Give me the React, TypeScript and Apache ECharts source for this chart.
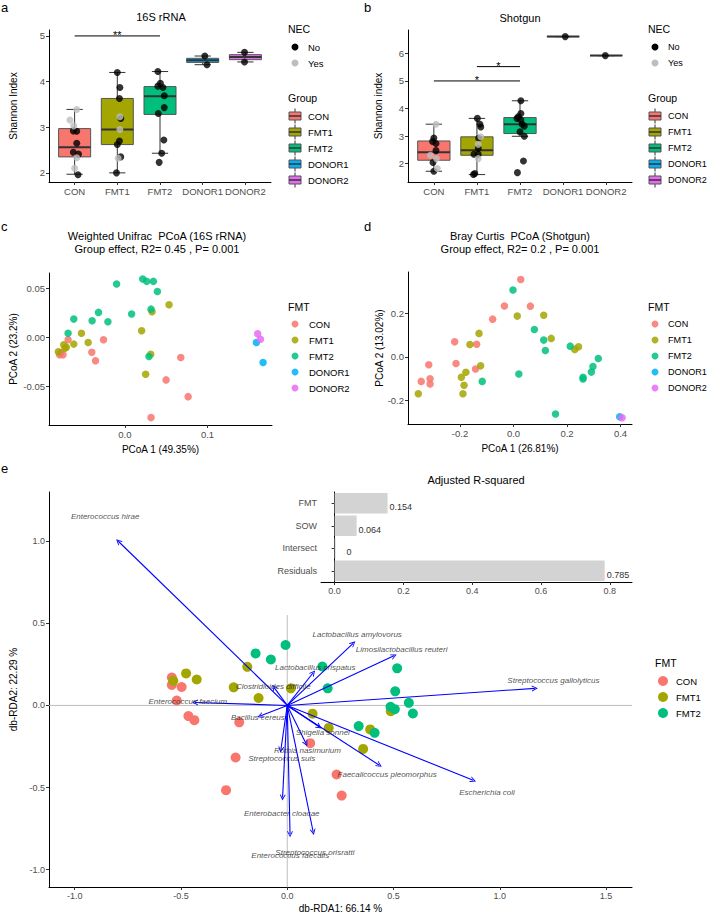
import React, { useEffect, useRef } from "react";
import * as echarts from "echarts";

const FONT = "'Liberation Sans', Arial, Helvetica, sans-serif";

// ---------- shared categories ----------
const GROUPS = ["CON", "FMT1", "FMT2", "DONOR1", "DONOR2"];
const GROUP_COLORS = ["#F8766D", "#A3A500", "#00BF7D", "#00B0F6", "#E76BF3"];
const NEC_LEVELS = ["No", "Yes"];
const NEC_COLORS = ["#000000", "#BEBEBE"];

// ---------- panel a : Shannon, 16S rRNA ----------
// [q1, median, q3, lower whisker, upper whisker]
const BOX_16S = [
  [2.35, 2.56, 2.97, 1.97, 3.39],
  [2.62, 2.95, 3.63, 2.0, 4.2],
  [3.28, 3.68, 3.89, 2.43, 4.22],
  [4.42, 4.47, 4.51, 4.37, 4.56],
  [4.48, 4.54, 4.59, 4.43, 4.64],
];
// [group (1-based), jitter, Shannon index]
const PTS_16S_NO = [
  [1, -0.03, 2.92], [1, 0.05, 2.91], [1, 0.05, 2.65], [1, -0.03, 2.45], [1, 0.09, 2.41], [1, 0.08, 1.96],
  [2, 0.0, 4.2], [2, 0.06, 3.87], [2, 0.05, 3.63], [2, 0.08, 3.19], [2, 0.05, 2.7], [2, 0.0, 2.62], [2, 0.08, 2.35], [2, -0.02, 2.0],
  [3, -0.05, 4.22], [3, 0.01, 3.96], [3, -0.05, 3.9], [3, 0.07, 3.87], [3, 0.1, 3.69], [3, 0.1, 3.43], [3, -0.04, 3.3], [3, 0.09, 2.72], [3, 0.04, 2.43], [3, -0.02, 2.23],
  [4, 0.05, 4.56], [4, 0.1, 4.37],
  [5, -0.02, 4.64], [5, -0.02, 4.43],
];
const PTS_16S_YES = [
  [1, 0.05, 3.39], [1, -0.11, 3.16], [1, -0.02, 3.03], [1, 0.05, 2.33], [1, 0.0, 2.1],
  [2, 0.06, 3.23], [2, 0.06, 2.95], [2, 0.02, 2.32],
];
// [from group, to group, height]
const SIG_16S = [[1, 3, 5.0]];
const SIG_16S_TEXT = ["**"];

// ---------- panel b : Shannon, shotgun ----------
const BOX_SG = [
  [2.12, 2.41, 2.82, 1.72, 3.43],
  [2.3, 2.48, 2.97, 1.6, 3.64],
  [3.09, 3.43, 3.67, 2.99, 4.28],
  [6.61, 6.61, 6.61, 6.61, 6.61],
  [5.92, 5.92, 5.92, 5.92, 5.92],
];
const PTS_SG_NO = [
  [1, 0.0, 2.93], [1, -0.03, 2.8], [1, 0.05, 2.73], [1, 0.05, 2.47], [1, -0.02, 2.04], [1, 0.0, 1.72],
  [2, 0.01, 3.64], [2, 0.07, 3.43], [2, 0.09, 3.33], [2, 0.04, 2.92], [2, 0.03, 2.55], [2, -0.07, 2.34], [2, 0.03, 2.34], [2, -0.05, 1.64], [2, -0.08, 1.6],
  [3, 0.02, 4.28], [3, 0.02, 3.82], [3, -0.04, 3.7], [3, -0.07, 3.64], [3, 0.02, 3.58], [3, 0.05, 3.43], [3, 0.1, 3.36], [3, 0.0, 3.15], [3, 0.1, 2.99], [3, 0.08, 2.09], [3, -0.06, 1.67],
  [4, 0.05, 6.61],
  [5, -0.02, 5.92],
];
const PTS_SG_YES = [
  [1, 0.05, 3.43], [1, -0.08, 2.3], [1, 0.06, 2.18], [1, 0.08, 1.82],
  [2, 0.09, 2.97], [2, 0.03, 2.7], [2, 0.03, 2.18],
];
const SIG_SG = [[2, 3, 5.52], [1, 3, 5.0]];
const SIG_SG_TEXT = ["*", "*"];

// ---------- panel c : weighted UniFrac PCoA ----------
const PCOA16_CON = [[-0.0688, -0.0025], [-0.0259, -0.0025], [-0.0777, -0.0154], [-0.0749, -0.0178], [-0.079, -0.0178], [-0.0401, -0.0151], [-0.0356, -0.0239], [0.0676, -0.0205], [0.0498, -0.0432], [0.0765, -0.0602], [0.0316, -0.0815]];
const PCOA16_FMT1 = [[0.0534, 0.0331], [0.0328, 0.0259], [0.0202, 0.0066], [-0.0526, 0.0042], [-0.0445, -0.0053], [-0.0619, -0.0069], [-0.0741, -0.0076], [-0.0709, -0.01], [-0.0725, -0.011], [-0.0806, -0.0147], [0.0312, -0.0171], [0.0251, -0.0375]];
const PCOA16_FMT2 = [[-0.0101, 0.0541], [0.0215, 0.0592], [0.0263, 0.0568], [0.0344, 0.0568], [0.0393, 0.0466], [0.0316, 0.0286], [0.0081, 0.0236], [-0.032, 0.0253], [-0.0397, 0.0168], [-0.0206, 0.0158], [-0.0619, 0.0185], [-0.0688, 0.0042], [0.0291, -0.0195]];
const PCOA16_DONOR1 = [[0.1591, -0.0053], [0.1672, -0.0256]];
const PCOA16_DONOR2 = [[0.1607, 0.0036], [0.164, -0.0019]];

// ---------- panel d : Bray Curtis PCoA ----------
const PCOASG_CON = [[0.027, 0.357], [-0.034, 0.235], [0.063, 0.234], [-0.078, 0.174], [-0.22, 0.069], [-0.138, 0.058], [-0.215, -0.031], [-0.317, -0.037], [-0.312, -0.102], [-0.345, -0.114], [-0.312, -0.126], [-0.142, -0.057]];
const PCOASG_FMT1 = [[0.014, 0.188], [0.113, 0.192], [-0.129, 0.108], [-0.163, 0.057], [0.141, 0.085], [0.243, 0.046], [0.229, 0.034], [-0.123, -0.042], [-0.178, -0.072], [-0.195, -0.095], [-0.185, -0.132], [-0.189, -0.171], [-0.356, -0.171]];
const PCOASG_FMT2 = [[-0.002, 0.309], [0.078, 0.126], [0.113, 0.077], [0.119, 0.029], [0.212, 0.049], [0.317, -0.008], [0.297, -0.045], [0.291, -0.071], [0.26, -0.095], [0.26, -0.103], [0.02, -0.08], [-0.117, -0.114], [0.157, -0.265]];
const PCOASG_DONOR1 = [[0.397, -0.278]];
const PCOASG_DONOR2 = [[0.406, -0.282]];

// ---------- panel e : db-RDA ----------
const RDA_GROUPS = ["CON", "FMT1", "FMT2"];
const RDA_CON = [[-0.543, 0.17], [-0.543, 0.125], [-0.497, 0.112], [-0.52, 0.03], [-0.465, -0.065], [-0.437, -0.09], [-0.226, -0.103], [0.108, -0.23], [-0.243, -0.317], [-0.288, -0.516], [0.232, -0.421], [0.256, -0.549]];
const RDA_FMT1 = [[-0.188, 0.235], [-0.476, 0.195], [-0.536, 0.15], [-0.426, 0.158], [-0.252, 0.11], [-0.135, 0.045], [0.017, 0.104], [0.119, -0.05], [0.195, -0.137], [0.487, -0.035], [0.39, -0.146], [0.357, -0.265]];
const RDA_FMT2 = [[-0.008, 0.368], [-0.149, 0.317], [-0.077, 0.28], [0.165, 0.237], [0.19, 0.104], [0.517, 0.226], [0.508, 0.086], [0.486, -0.008], [0.506, -0.023], [0.572, 0.016], [0.591, -0.049], [0.336, -0.126], [0.411, -0.167]];
const RDA_SPECIES = [
  "Enterococcus hirae", "Lactobacillus amylovorus", "Limosilactobacillus reuteri", "Lactobacillus crispatus",
  "Clostridioides difficile", "Enterococcus faecium", "Bacillus cereus", "Streptococcus gallolyticus",
  "Shigella sonnei", "Rothia nasimurium", "Streptococcus suis", "Enterobacter cloacae",
  "Enterococcus faecalis", "Streptococcus orisratti", "Faecalicoccus pleomorphus", "Escherichia coli",
];
const RDA_ARROWS = [[-0.795, 1.0], [0.31, 0.378], [0.502, 0.302], [0.122, 0.199], [-0.0625, 0.11], [-0.434, 0.018], [-0.128, -0.065], [1.165, 0.104], [0.15, -0.13], [0.088, -0.232], [-0.03, -0.27], [-0.022, -0.561], [0.013, -0.785], [0.122, -0.771], [0.433, -0.364], [0.875, -0.456]];
const RDA_LABEL_POS = [[-0.857, 1.15], [0.329, 0.435], [0.538, 0.341], [0.132, 0.228], [-0.066, 0.118], [-0.468, 0.022], [-0.138, -0.071], [1.252, 0.154], [0.167, -0.167], [0.095, -0.277], [-0.026, -0.323], [-0.026, -0.657], [0.014, -0.913], [0.13, -0.895], [0.47, -0.423], [0.94, -0.529]];
const RDA_VLINE_TOP = 0.55;

// ---------- inset : adjusted R-squared ----------
const R2_TERMS = ["FMT", "SOW", "Intersect", "Residuals"];
const R2_VALUES = [0.154, 0.064, 0, 0.785];
const R2_LABELS = ["0.154", "0.064", "0", "0.785"];

// ---------- tick values ----------
const TICKS_CAT = [1, 2, 3, 4, 5];
const TICKS_A_Y = [2, 3, 4, 5];
const TICKS_B_Y = [2, 3, 4, 5, 6];
const TICKS_C_X = [0, 0.1];
const TICKS_C_Y = [-0.05, 0, 0.05];
const TICKS_D_X = [-0.2, 0, 0.2, 0.4];
const TICKS_D_Y = [-0.2, 0, 0.2];
const TICKS_E_X = [-1, -0.5, 0, 0.5, 1, 1.5];
const TICKS_E_Y = [-1, -0.5, 0, 0.5, 1];
const TICKS_R2 = [0, 0.2, 0.4, 0.6, 0.8];

const ARROW_PATH = "path://M0,10 L5,0 L10,10 L8.4,10 L5,3.2 L1.6,10 Z";

function valAxis(gridIndex: number, min: number, max: number, ticks: number[], fmt: any, name = "", nameGap = 20, fontSize = 9.5) {
  return {
    type: "value",
    gridIndex,
    min,
    max,
    name,
    nameLocation: "middle",
    nameGap,
    nameMoveOverlap: false,
    nameTextStyle: { color: "#000", fontSize: 10, fontFamily: FONT },
    axisLine: { show: true, onZero: false, lineStyle: { color: "#000", width: 1 } },
    axisTick: { show: true, length: 3, customValues: ticks, lineStyle: { color: "#333", width: 1 } },
    axisLabel: { show: true, customValues: ticks, formatter: fmt, color: "#4D4D4D", fontSize, fontFamily: FONT, margin: 4 },
    splitLine: { show: false },
  };
}

function boxRender(params: any, api: any) {
  const g = api.value(0);
  const q1 = api.value(1), med = api.value(2), q3 = api.value(3), lo = api.value(4), hi = api.value(5);
  const color = GROUP_COLORS[g - 1];
  const half = 0.375, cap = 0.19;
  const pTL = api.coord([g - half, q3]);
  const pBR = api.coord([g + half, q1]);
  const pMed = api.coord([g, med]);
  const yLo = api.coord([g, lo])[1];
  const yHi = api.coord([g, hi])[1];
  const cL = api.coord([g - cap, lo])[0];
  const cR = api.coord([g + cap, lo])[0];
  const xc = pMed[0];
  const stroke = "#333333";
  return {
    type: "group",
    children: [
      { type: "line", shape: { x1: xc, y1: yHi, x2: xc, y2: pTL[1] }, style: { stroke, lineWidth: 1 } },
      { type: "line", shape: { x1: xc, y1: pBR[1], x2: xc, y2: yLo }, style: { stroke, lineWidth: 1 } },
      { type: "line", shape: { x1: cL, y1: yHi, x2: cR, y2: yHi }, style: { stroke, lineWidth: 1 } },
      { type: "line", shape: { x1: cL, y1: yLo, x2: cR, y2: yLo }, style: { stroke, lineWidth: 1 } },
      { type: "rect", shape: { x: pTL[0], y: pTL[1], width: pBR[0] - pTL[0], height: pBR[1] - pTL[1] }, style: { fill: color, stroke: "#555555", lineWidth: 1 } },
      { type: "line", shape: { x1: pTL[0], y1: pMed[1], x2: pBR[0], y2: pMed[1] }, style: { stroke, lineWidth: 2 } },
    ],
  };
}

function sigRender(texts: string[]) {
  return (params: any, api: any) => {
    const x1 = api.value(0), x2 = api.value(1), y = api.value(2);
    const p1 = api.coord([x1, y]);
    const p2 = api.coord([x2, y]);
    return {
      type: "group",
      children: [
        { type: "line", shape: { x1: p1[0], y1: p1[1], x2: p2[0], y2: p2[1] }, style: { stroke: "#000", lineWidth: 1 } },
        {
          type: "text",
          x: (p1[0] + p2[0]) / 2,
          y: p1[1] - 1,
          style: { text: texts[params.dataIndex], fill: "#000", fontSize: 11, fontFamily: FONT, align: "center", verticalAlign: "middle" },
        },
      ],
    };
  };
}

function boxPanelSeries(idx: number, box: number[][], no: number[][], yes: number[][], sig: number[][], sigText: string[]) {
  return [
    {
      type: "custom",
      xAxisIndex: idx,
      yAxisIndex: idx,
      renderItem: boxRender,
      encode: { x: 0, y: [1, 2, 3, 4, 5] },
      data: box.map((b, i) => [i + 1, ...b]),
      silent: true,
    },
    {
      type: "scatter",
      name: NEC_LEVELS[0],
      xAxisIndex: idx,
      yAxisIndex: idx,
      symbolSize: 7,
      itemStyle: { color: NEC_COLORS[0] },
      data: no.map((p) => [p[0] + p[1], p[2]]),
      silent: true,
    },
    {
      type: "scatter",
      name: NEC_LEVELS[1],
      xAxisIndex: idx,
      yAxisIndex: idx,
      symbolSize: 7,
      itemStyle: { color: NEC_COLORS[1] },
      data: yes.map((p) => [p[0] + p[1], p[2]]),
      silent: true,
    },
    {
      type: "custom",
      xAxisIndex: idx,
      yAxisIndex: idx,
      renderItem: sigRender(sigText),
      encode: { x: [0, 1], y: 2 },
      data: sig,
      silent: true,
    },
  ];
}

function pcoaSeries(idx: number, sets: number[][][]) {
  return sets.map((set, i) => ({
    type: "scatter",
    name: GROUPS[i],
    xAxisIndex: idx,
    yAxisIndex: idx,
    symbolSize: 7.5,
    itemStyle: { color: GROUP_COLORS[i], opacity: 0.85 },
    data: set,
    silent: true,
  }));
}

function text(x: number, y: number, t: string, extra: any = {}) {
  return {
    type: "text",
    x,
    y,
    silent: true,
    style: { text: t, fill: "#000", fontSize: 10, fontFamily: FONT, align: "left", verticalAlign: "middle", ...extra },
  };
}

function pointLegend(titleX: number, titleY: number, title: string, keyX: number, textX: number, y0: number, dy: number, names: string[], colors: string[], r: number, opacity = 1, fs = 9.5) {
  const els: any[] = [text(titleX, titleY, title, { fontSize: 10.5 })];
  names.forEach((n, i) => {
    const y = y0 + dy * i;
    els.push({ type: "circle", silent: true, shape: { cx: keyX, cy: y, r }, style: { fill: colors[i], opacity } });
    els.push(text(textX, y, n, { fontSize: fs }));
  });
  return els;
}

function boxLegend(titleX: number, titleY: number, title: string, keyX: number, textX: number, y0: number, dy: number, fs = 9.5) {
  const els: any[] = [text(titleX, titleY, title, { fontSize: 10.5 })];
  GROUPS.forEach((n, i) => {
    const y = y0 + dy * i;
    els.push({ type: "line", silent: true, shape: { x1: keyX, y1: y - 7.5, x2: keyX, y2: y - 4 }, style: { stroke: "#333", lineWidth: 1 } });
    els.push({ type: "line", silent: true, shape: { x1: keyX, y1: y + 4, x2: keyX, y2: y + 7.5 }, style: { stroke: "#333", lineWidth: 1 } });
    els.push({ type: "rect", silent: true, shape: { x: keyX - 6, y: y - 4, width: 12, height: 8 }, style: { fill: GROUP_COLORS[i], stroke: "#555", lineWidth: 1 } });
    els.push({ type: "line", silent: true, shape: { x1: keyX - 6, y1: y, x2: keyX + 6, y2: y }, style: { stroke: "#333", lineWidth: 1.5 } });
    els.push(text(textX, y, n, { fontSize: fs }));
  });
  return els;
}

function buildOption() {
  const catFmt = (v: number) => GROUPS[Math.round(v) - 1] || "";
  const f0 = (v: number) => String(Math.round(v));
  const f1 = (v: number) => v.toFixed(1);
  const f2 = (v: number) => v.toFixed(2);

  const grids = [
    { left: 49, top: 30, width: 222, height: 152 },
    { left: 408, top: 30, width: 224, height: 152 },
    { left: 49, top: 273, width: 223, height: 152 },
    { left: 408, top: 272, width: 224, height: 152 },
    { left: 49, top: 492, width: 583, height: 395 },
    { left: 321, top: 492, width: 311, height: 90 },
  ].map((g) => ({ ...g, containLabel: false, outerBoundsMode: "none", show: false }));

  const xAxis: any[] = [
    valAxis(0, 0.4, 5.6, TICKS_CAT, catFmt),
    valAxis(1, 0.4, 5.6, TICKS_CAT, catFmt),
    valAxis(2, -0.0919, 0.178, TICKS_C_X, f1, "PCoA 1 (49.35%)", 19),
    valAxis(3, -0.3945, 0.443, TICKS_D_X, f1, "PCoA 1 (26.81%)", 19),
    valAxis(4, -1.121, 1.622, TICKS_E_X, f1, "db-RDA1: 66.14 %", 16, 9),
    valAxis(5, -0.0395, 0.8645, TICKS_R2, f1, "", 10, 9),
  ];
  const yAxis: any[] = [
    valAxis(0, 1.8, 5.13, TICKS_A_Y, f0, "Shannon Index", 31),
    valAxis(1, 1.33, 6.85, TICKS_B_Y, f0, "Shannon index", 25),
    valAxis(2, -0.089, 0.0653, TICKS_C_Y, f2, "PCoA 2 (23.2%)", 31),
    valAxis(3, -0.311, 0.392, TICKS_D_Y, f1, "PCoA 2 (13.02%)", 24),
    valAxis(4, -1.106, 1.3, TICKS_E_Y, f1, "db-RDA2: 22.29 %", 31, 9),
    {
      type: "category",
      gridIndex: 5,
      data: R2_TERMS,
      inverse: true,
      axisLine: { show: true, lineStyle: { color: "#000", width: 1 } },
      axisTick: { show: true, length: 3, alignWithLabel: true, lineStyle: { color: "#333" } },
      axisLabel: { color: "#4D4D4D", fontSize: 9, fontFamily: FONT, margin: 4 },
      splitLine: { show: false },
    },
  ];

  const series: any[] = [
    ...boxPanelSeries(0, BOX_16S, PTS_16S_NO, PTS_16S_YES, SIG_16S, SIG_16S_TEXT),
    ...boxPanelSeries(1, BOX_SG, PTS_SG_NO, PTS_SG_YES, SIG_SG, SIG_SG_TEXT),
    ...pcoaSeries(2, [PCOA16_CON, PCOA16_FMT1, PCOA16_FMT2, PCOA16_DONOR1, PCOA16_DONOR2]),
    ...pcoaSeries(3, [PCOASG_CON, PCOASG_FMT1, PCOASG_FMT2, PCOASG_DONOR1, PCOASG_DONOR2]),
    // db-RDA reference lines
    {
      type: "line",
      xAxisIndex: 4,
      yAxisIndex: 4,
      showSymbol: false,
      symbol: "none",
      lineStyle: { color: "#BEBEBE", width: 1 },
      data: [[-1.121, 0], [1.622, 0]],
      silent: true,
      z: 1,
    },
    {
      type: "line",
      xAxisIndex: 4,
      yAxisIndex: 4,
      showSymbol: false,
      symbol: "none",
      lineStyle: { color: "#BEBEBE", width: 1 },
      data: [[0, -1.106], [0, RDA_VLINE_TOP]],
      silent: true,
      z: 1,
    },
    ...[RDA_CON, RDA_FMT1, RDA_FMT2].map((set, i) => ({
      type: "scatter",
      name: RDA_GROUPS[i],
      xAxisIndex: 4,
      yAxisIndex: 4,
      symbolSize: 10,
      itemStyle: { color: GROUP_COLORS[i], opacity: 1 },
      data: set,
      silent: true,
      z: 2,
    })),
    {
      type: "lines",
      coordinateSystem: "cartesian2d",
      xAxisIndex: 4,
      yAxisIndex: 4,
      symbol: ["none", ARROW_PATH],
      symbolSize: [6, 6],
      lineStyle: { color: "#0000FF", width: 1.1, opacity: 1, curveness: 0 },
      data: RDA_ARROWS.map((p) => ({ coords: [[0, 0], [p[0], p[1]]] })),
      silent: true,
      z: 3,
    },
    {
      type: "scatter",
      xAxisIndex: 4,
      yAxisIndex: 4,
      symbolSize: 1,
      itemStyle: { color: "rgba(0,0,0,0)" },
      label: {
        show: true,
        position: "inside",
        formatter: "{b}",
        fontSize: 8,
        fontStyle: "italic",
        color: "#222",
        fontFamily: FONT,
      },
      data: RDA_LABEL_POS.map((p, i) => ({ name: RDA_SPECIES[i], value: p })),
      silent: true,
      z: 4,
    },
    {
      type: "bar",
      xAxisIndex: 5,
      yAxisIndex: 5,
      barCategoryGap: "9%",
      barMinHeight: 1,
      itemStyle: { color: "#D3D3D3" },
      label: {
        show: true,
        position: "right",
        distance: 2,
        offset: [0, 4],
        formatter: (p: any) => R2_LABELS[p.dataIndex],
        color: "#333",
        fontSize: 9,
        fontFamily: FONT,
      },
      data: R2_VALUES.map((v) => (v === 0 ? { value: v, label: { distance: 11 } } : { value: v })),
      silent: true,
      z: 5,
    },
  ];

  const graphicEls: any[] = [
    text(1, 7, "a", { fontSize: 13 }),
    text(364, 7, "b", { fontSize: 13 }),
    text(1, 226, "c", { fontSize: 13 }),
    text(364, 226, "d", { fontSize: 13 }),
    text(1, 468, "e", { fontSize: 13 }),
    text(161, 17, "16S rRNA", { fontSize: 11, align: "center" }),
    text(520, 18, "Shotgun", { fontSize: 11, align: "center" }),
    text(157, 236, "Weighted Unifrac  PCoA (16S rRNA)", { fontSize: 11, align: "center" }),
    text(157, 249, "Group effect, R2= 0.45 , P= 0.001", { fontSize: 11, align: "center" }),
    text(520, 236, "Bray Curtis  PCoA (Shotgun)", { fontSize: 11, align: "center" }),
    text(520, 249, "Group effect, R2= 0.2 , P= 0.001", { fontSize: 11, align: "center" }),
    text(476, 480, "Adjusted R-squared", { fontSize: 11, align: "center" }),
    ...pointLegend(288, 29, "NEC", 295, 308, 47, 16, NEC_LEVELS, NEC_COLORS, 3.5),
    ...boxLegend(288, 98, "Group", 295, 308, 116, 16),
    ...pointLegend(648, 29, "NEC", 655, 668, 47, 16, NEC_LEVELS, NEC_COLORS, 3.5, 1, 9.1),
    ...boxLegend(648, 98, "Group", 655, 668, 116, 16, 9.1),
    ...pointLegend(288, 307, "FMT", 295, 309, 324, 16, GROUPS, GROUP_COLORS, 3.5, 0.85),
    ...pointLegend(648, 307, "FMT", 655, 668, 324, 16, GROUPS, GROUP_COLORS, 3.5, 0.85, 9.1),
    ...pointLegend(655, 663, "FMT", 663, 676, 681, 16, RDA_GROUPS, GROUP_COLORS, 5),
  ];

  return {
    animation: false,
    backgroundColor: "#ffffff",
    textStyle: { fontFamily: FONT },
    grid: grids,
    xAxis,
    yAxis,
    series,
    graphic: { elements: graphicEls },
  };
}

export default function App() {
  const ref = useRef<HTMLDivElement>(null);
  useEffect(() => {
    if (!ref.current) return;
    const chart = echarts.init(ref.current, null, { renderer: "svg" });
    chart.setOption(buildOption() as any);
    return () => chart.dispose();
  }, []);
  return (
    <div
      ref={ref}
      style={{ position: "absolute", left: 0, top: 0, width: 708, height: 913, background: "#fff" }}
    />
  );
}
